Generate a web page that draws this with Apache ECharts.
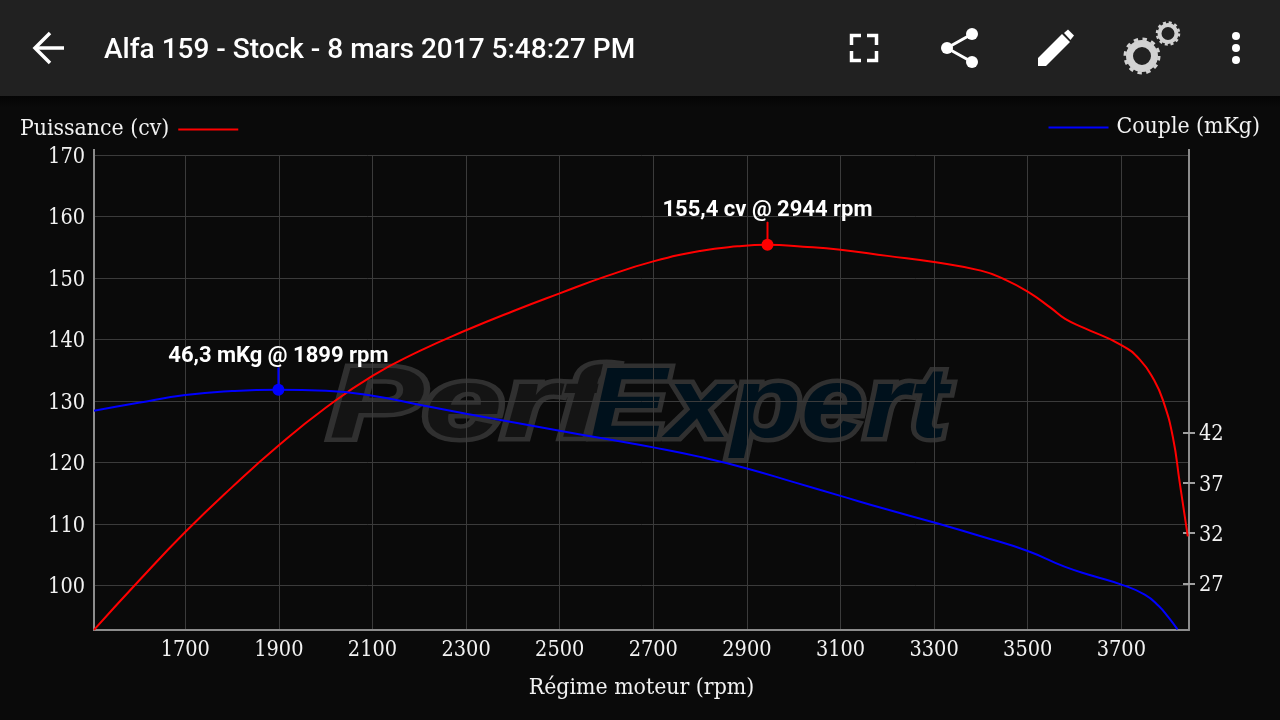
<!DOCTYPE html>
<html>
<head>
<meta charset="utf-8">
<style>
  html,body{margin:0;padding:0;background:#0a0a0a}
  #main{width:1280px;height:720px}
</style>
<script src="https://cdn.jsdelivr.net/npm/echarts@6/dist/echarts.min.js"></script>
</head>
<body>
<div id="main"></div>
<script>
const powerRpm=[1505,1600,1700,1800,1900,2000,2100,2200,2300,2400,2500,2600,2700,2800,2880,2944,3020,3100,3200,3300,3400,3450,3500,3550,3580,3620,3700,3740,3770,3790,3810,3825,3842]
const powerCv=[92.8,100.7,108.7,116,122.8,128.9,134.1,138.1,141.5,144.6,147.5,150.3,152.7,154.4,155.15,155.4,155.1,154.6,153.6,152.6,151.2,149.8,147.8,145.1,143.35,141.9,139.1,136.7,133.4,129.9,124.2,116.6,108]
const torqueRpm=[1505,1600,1700,1800,1899,2000,2100,2200,2300,2400,2500,2600,2700,2800,2900,3000,3100,3200,3300,3400,3500,3580,3640,3700,3750,3780,3800,3820]
const torqueMkg=[44.2,45,45.76,46.16,46.3,46.2,45.7,44.8,43.9,43.05,42.2,41.38,40.55,39.6,38.45,37.08,35.71,34.35,33.06,31.69,30.22,28.63,27.73,26.87,25.87,24.73,23.64,22.4]
const rpmTicks=[1700,1900,2100,2300,2500,2700,2900,3100,3300,3500,3700]
const cvTicks=[100,110,120,130,140,150,160,170]
const mkgTicks=[27,32,37,42]
const powerPeak=[2944,155.4]
const powerPeakTop=159.1
const torquePeak=[1899,46.3]
const torquePeakTop=48.5

const serif='"DejaVu Serif Condensed","DejaVu Serif"'
const tickSize=21.5
const nameSize=22.8
const txt='#f2f2f2'
const gridCol='#3b3b3b'
const axisCol='#8c8c8c'

function zip(a,b){return a.map((v,i)=>[v,b[i]])}

// libelle d'axe y, descendu de 2px par rapport au trait
const yLabelRich={v:{color:txt,fontFamily:serif,fontSize:tickSize,padding:[4,0,0,0]}}

function peakSeries(name,peak,top,yIndex,color,label){
  return {
    name:name,type:'line',yAxisIndex:yIndex,silent:true,animation:false,
    lineStyle:{color:color,width:2},itemStyle:{color:color},z:4,showSymbol:true,showAllSymbol:true,
    data:[
      {value:peak,symbol:'circle',symbolSize:12},
      {value:[peak[0],top],symbol:'circle',symbolSize:1,label:{show:true,position:'top',distance:0,formatter:label,
        color:'#fff',fontFamily:'Roboto',fontWeight:700,fontSize:22}}
    ]
  }
}

function stroked(points,width,color){
  return {type:'polyline',z:11,shape:{points:points},style:{fill:'none',stroke:color||'#fff',lineWidth:width}}
}
function dot(cx,cy,r){
  return {type:'circle',z:11,shape:{cx:cx,cy:cy,r:r},style:{fill:'#fff'}}
}
function ringShape(cx,cy,r,w,dash){
  return {type:'circle',z:11,shape:{cx:cx,cy:cy,r:r},style:{fill:'none',stroke:'#d2d2d2',lineWidth:w,lineDash:dash||null}}
}

// barre du haut et filigrane
const graphics=[
  {type:'rect',z:-2,shape:{x:0,y:96,width:1280,height:12},style:{fill:new echarts.graphic.LinearGradient(0,0,0,1,[{offset:0,color:'#040404'},{offset:1,color:'#0a0a0a'}])}},
  {type:'rect',z:10,shape:{x:0,y:0,width:1280,height:96},style:{fill:'#212121'}},
  {type:'text',z:11,x:104,y:51,style:{text:'Alfa 159 - Stock - 8 mars 2017 5:48:27 PM',fill:'#fff',font:'500 28px Roboto',textVerticalAlign:'middle'}},
  stroked([[64,48],[36,48]],3.5),
  stroked([[50,33],[35,48],[50,63]],3.5),
  stroked([[851.5,45],[851.5,35.5],[861,35.5]],3.5),
  stroked([[867,35.5],[876.5,35.5],[876.5,45]],3.5),
  stroked([[876.5,51],[876.5,60.5],[867,60.5]],3.5),
  stroked([[861,60.5],[851.5,60.5],[851.5,51]],3.5),
  stroked([[972,34],[947,48],[972,62]],3),
  dot(972,34,6),dot(947,48,6),dot(972,62,6),
  {type:'polygon',z:11,shape:{points:[[1038,66],[1038,58],[1062,34],[1070,42],[1046,66]]},style:{fill:'#fff'}},
  {type:'polygon',z:11,shape:{points:[[1064,33],[1068,29.5],[1074,35.5],[1070.5,40]]},style:{fill:'#fff'}},
  ringShape(1142,56,12.5,7),
  ringShape(1142,56,17,3,[4.4,4.5]),
  ringShape(1168,33.5,8.5,4),
  ringShape(1168,33.5,11,2.5,[3,2.8]),
  dot(1236,36,4),dot(1236,48,4),dot(1236,60,4),
  {type:'text',z:-1,x:329,y:459,scaleX:1.42,style:{text:'Perf',fill:'#141414',stroke:'#303030',lineWidth:9,font:'italic 700 100px "Liberation Sans"',textVerticalAlign:'bottom'}},
  {type:'text',z:-1,x:590,y:459,scaleX:1.15,style:{text:'Expert',fill:'#00111c',stroke:'#303030',lineWidth:9,font:'italic 700 100px "Liberation Sans"',textVerticalAlign:'bottom'}},
  // le trait d'axe depasse un peu au dessus de la grille
  {type:'line',z:5,shape:{x1:94,y1:149,x2:94,y2:155},style:{stroke:axisCol,lineWidth:2}},
  {type:'line',z:5,shape:{x1:1189,y1:149,x2:1189,y2:155},style:{stroke:axisCol,lineWidth:2}}
]

let myChart=echarts.init(document.getElementById('main'),null,{renderer:'canvas'})
let options={
  animation:false,
  backgroundColor:'#0a0a0a',
  textStyle:{fontFamily:serif},
  grid:{left:94,right:91,top:155,bottom:90},
  graphic:{elements:graphics},
  legend:[
    {data:['Puissance (cv)'],left:20,top:118,padding:0,align:'right',icon:'rect',itemWidth:60,itemHeight:2,
      textStyle:{color:txt,fontFamily:serif,fontSize:nameSize,padding:[0,4,0,0]}},
    {data:['Couple (mKg)'],right:20,top:116,padding:0,align:'left',icon:'rect',itemWidth:60,itemHeight:2,
      textStyle:{color:txt,fontFamily:serif,fontSize:nameSize,padding:[0,0,0,3]}}
  ],
  xAxis:{
    type:'value',min:1505,max:3844.6,
    name:'Régime moteur (rpm)',nameLocation:'middle',nameGap:47,
    nameTextStyle:{color:txt,fontFamily:serif,fontSize:nameSize},
    axisLine:{show:true,lineStyle:{color:axisCol,width:2}},
    axisTick:{show:false,customValues:rpmTicks},
    axisLabel:{color:txt,fontFamily:serif,fontSize:tickSize,margin:9,customValues:rpmTicks,formatter:v=>String(v)},
    splitLine:{show:true,lineStyle:{color:gridCol,width:1}}
  },
  yAxis:[
    {
      type:'value',position:'left',min:92.77,max:170,
      axisLine:{show:true,onZero:false,lineStyle:{color:axisCol,width:2}},
      axisTick:{show:false,customValues:cvTicks},
      axisLabel:{margin:9,customValues:cvTicks,formatter:'{v|{value}}',rich:yLabelRich},
      splitLine:{show:true,lineStyle:{color:gridCol,width:1}}
    },
    {
      type:'value',position:'right',min:22.34,max:69.7,
      axisLine:{show:true,onZero:false,lineStyle:{color:axisCol,width:2}},
      axisTick:{show:true,length:6,customValues:mkgTicks,lineStyle:{color:'#a0a0a0',width:2}},
      axisLabel:{margin:10,customValues:mkgTicks,formatter:'{v|{value}}',rich:yLabelRich},
      splitLine:{show:false}
    },
    {
      // meme axe, pour le petit trait cote interieur
      type:'value',position:'right',min:22.34,max:69.7,
      axisLine:{show:false},
      axisTick:{show:true,inside:true,length:6,customValues:mkgTicks,lineStyle:{color:'#a0a0a0',width:2}},
      axisLabel:{show:false,customValues:mkgTicks},
      splitLine:{show:false}
    }
  ],
  series:[
    {name:'Puissance (cv)',type:'line',yAxisIndex:0,smooth:0.5,showSymbol:false,symbol:'none',
      lineStyle:{color:'#ff0000',width:2},itemStyle:{color:'#ff0000'},z:3,data:zip(powerRpm,powerCv)},
    {name:'Couple (mKg)',type:'line',yAxisIndex:1,smooth:0.5,showSymbol:false,symbol:'none',
      lineStyle:{color:'#0000ff',width:2},itemStyle:{color:'#0000ff'},z:3,data:zip(torqueRpm,torqueMkg)},
    peakSeries('Pic puissance',powerPeak,powerPeakTop,0,'#ff0000','155,4 cv @ 2944 rpm'),
    peakSeries('Pic couple',torquePeak,torquePeakTop,1,'#0000ff','46,3 mKg @ 1899 rpm')
  ]
}
myChart.setOption(options)
</script>
</body>
</html>
